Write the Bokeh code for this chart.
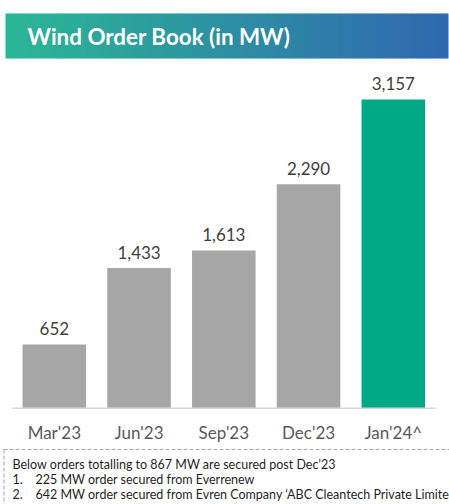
from bokeh.plotting import figure
from bokeh.models import Range1d, ColumnDataSource
from bokeh.core.properties import value
from bokeh.embed import file_html
from bokeh.resources import INLINE

# ---- data ----
categories = ["Mar'23", "Jun'23", "Sep'23", "Dec'23", "Jan'24^"]
mw_values = [652, 1433, 1613, 2290, 3157]
bar_colors = ["#a6a6a6", "#a6a6a6", "#a6a6a6", "#a6a6a6", "#00a886"]
title_text = "Wind Order Book (in MW)"
note_heading = "Below orders totalling to 867 MW are secured post Dec\u201923"
note_numbers = ["1.", "2."]
note_items = [
    "225 MW order secured from Everrenew",
    "642 MW order secured from Evren Company \u2018ABC Cleantech Private Limited\u2019",
]

W, H = 449, 504
FONT = "Lato"

p = figure(width=W, height=H, x_range=Range1d(-0.635, 4.663), y_range=Range1d(-985, 4169),
           output_backend="svg", toolbar_location=None, min_border=0,
           outline_line_color=None, background_fill_color="white", border_fill_color="white")
p.axis.visible = False
p.grid.visible = False
p.extra_x_ranges = {"px": Range1d(0, W)}
p.extra_y_ranges = {"px": Range1d(H, 0)}

# ---- header band with gradient ----
c0 = (43, 183, 149)
c1 = (46, 104, 176)
step = 3
x_start, x_end = 5, 448
lefts, rights, cols = [], [], []
n = (x_end - x_start + step - 1) // step
for i in range(n):
    t = i / max(n - 1, 1)
    r = round(c0[0] + (c1[0] - c0[0]) * t)
    g = round(c0[1] + (c1[1] - c0[1]) * t)
    b = round(c0[2] + (c1[2] - c0[2]) * t)
    lefts.append(x_start + i * step)
    rights.append(min(x_start + (i + 1) * step + 0.6, x_end))
    cols.append("#%02x%02x%02x" % (r, g, b))
p.quad(left=lefts, right=rights, top=[13] * n, bottom=[58] * n, fill_color=cols,
       line_color=None, x_range_name="px", y_range_name="px")
p.text(x=[27], y=[36], text=[title_text], x_range_name="px", y_range_name="px",
       text_font=value(FONT), text_font_style="bold", text_font_size="22.4px",
       text_color="white", text_align="left", text_baseline="middle")

# ---- bars ----
xs = list(range(len(categories)))
src = ColumnDataSource(dict(
    x=xs, top=mw_values, color=bar_colors,
    label=[f"{v:,}" for v in mw_values], cat=categories,
))
p.vbar(x="x", top="top", bottom=0, width=0.75, fill_color="color", line_color=None, source=src)

# axis base line
p.segment(x0=[-0.5], x1=[len(categories) - 0.5], y0=[0], y1=[0], line_color="#d9d9d9", line_width=1.5)

# value labels
p.text(x="x", y="top", text="label", source=src, y_offset=-16,
       text_font=value(FONT), text_font_size="17px", text_color="#404040",
       text_align="center", text_baseline="middle")

# category labels
p.text(x="x", y=0, text="cat", source=src, y_offset=24,
       text_font=value(FONT), text_font_size="17px", text_color="#595959",
       text_align="center", text_baseline="middle")

# ---- footnote box ----
p.segment(x0=[3, 3.5], x1=[W, 3.5], y0=[449, 449], y1=[449, H], line_color="#a6a6a6",
          line_width=1, line_dash="4 2", x_range_name="px", y_range_name="px")
p.text(x=[12], y=[463.5], text=[note_heading], x_range_name="px", y_range_name="px",
       text_font=value(FONT), text_font_size="12.5px", text_color="#1f1f1f",
       text_align="left", text_baseline="middle")
p.text(x=[12, 12], y=[478.5, 493.5], text=note_numbers, x_range_name="px", y_range_name="px",
       text_font=value(FONT), text_font_size="12.5px", text_color="#1f1f1f",
       text_align="left", text_baseline="middle")
p.text(x=[35, 35], y=[478.5, 493.5], text=note_items, x_range_name="px", y_range_name="px",
       text_font=value(FONT), text_font_size="12.5px", text_color="#1f1f1f",
       text_align="left", text_baseline="middle")

open("out.html", "w").write(file_html(p, INLINE))
